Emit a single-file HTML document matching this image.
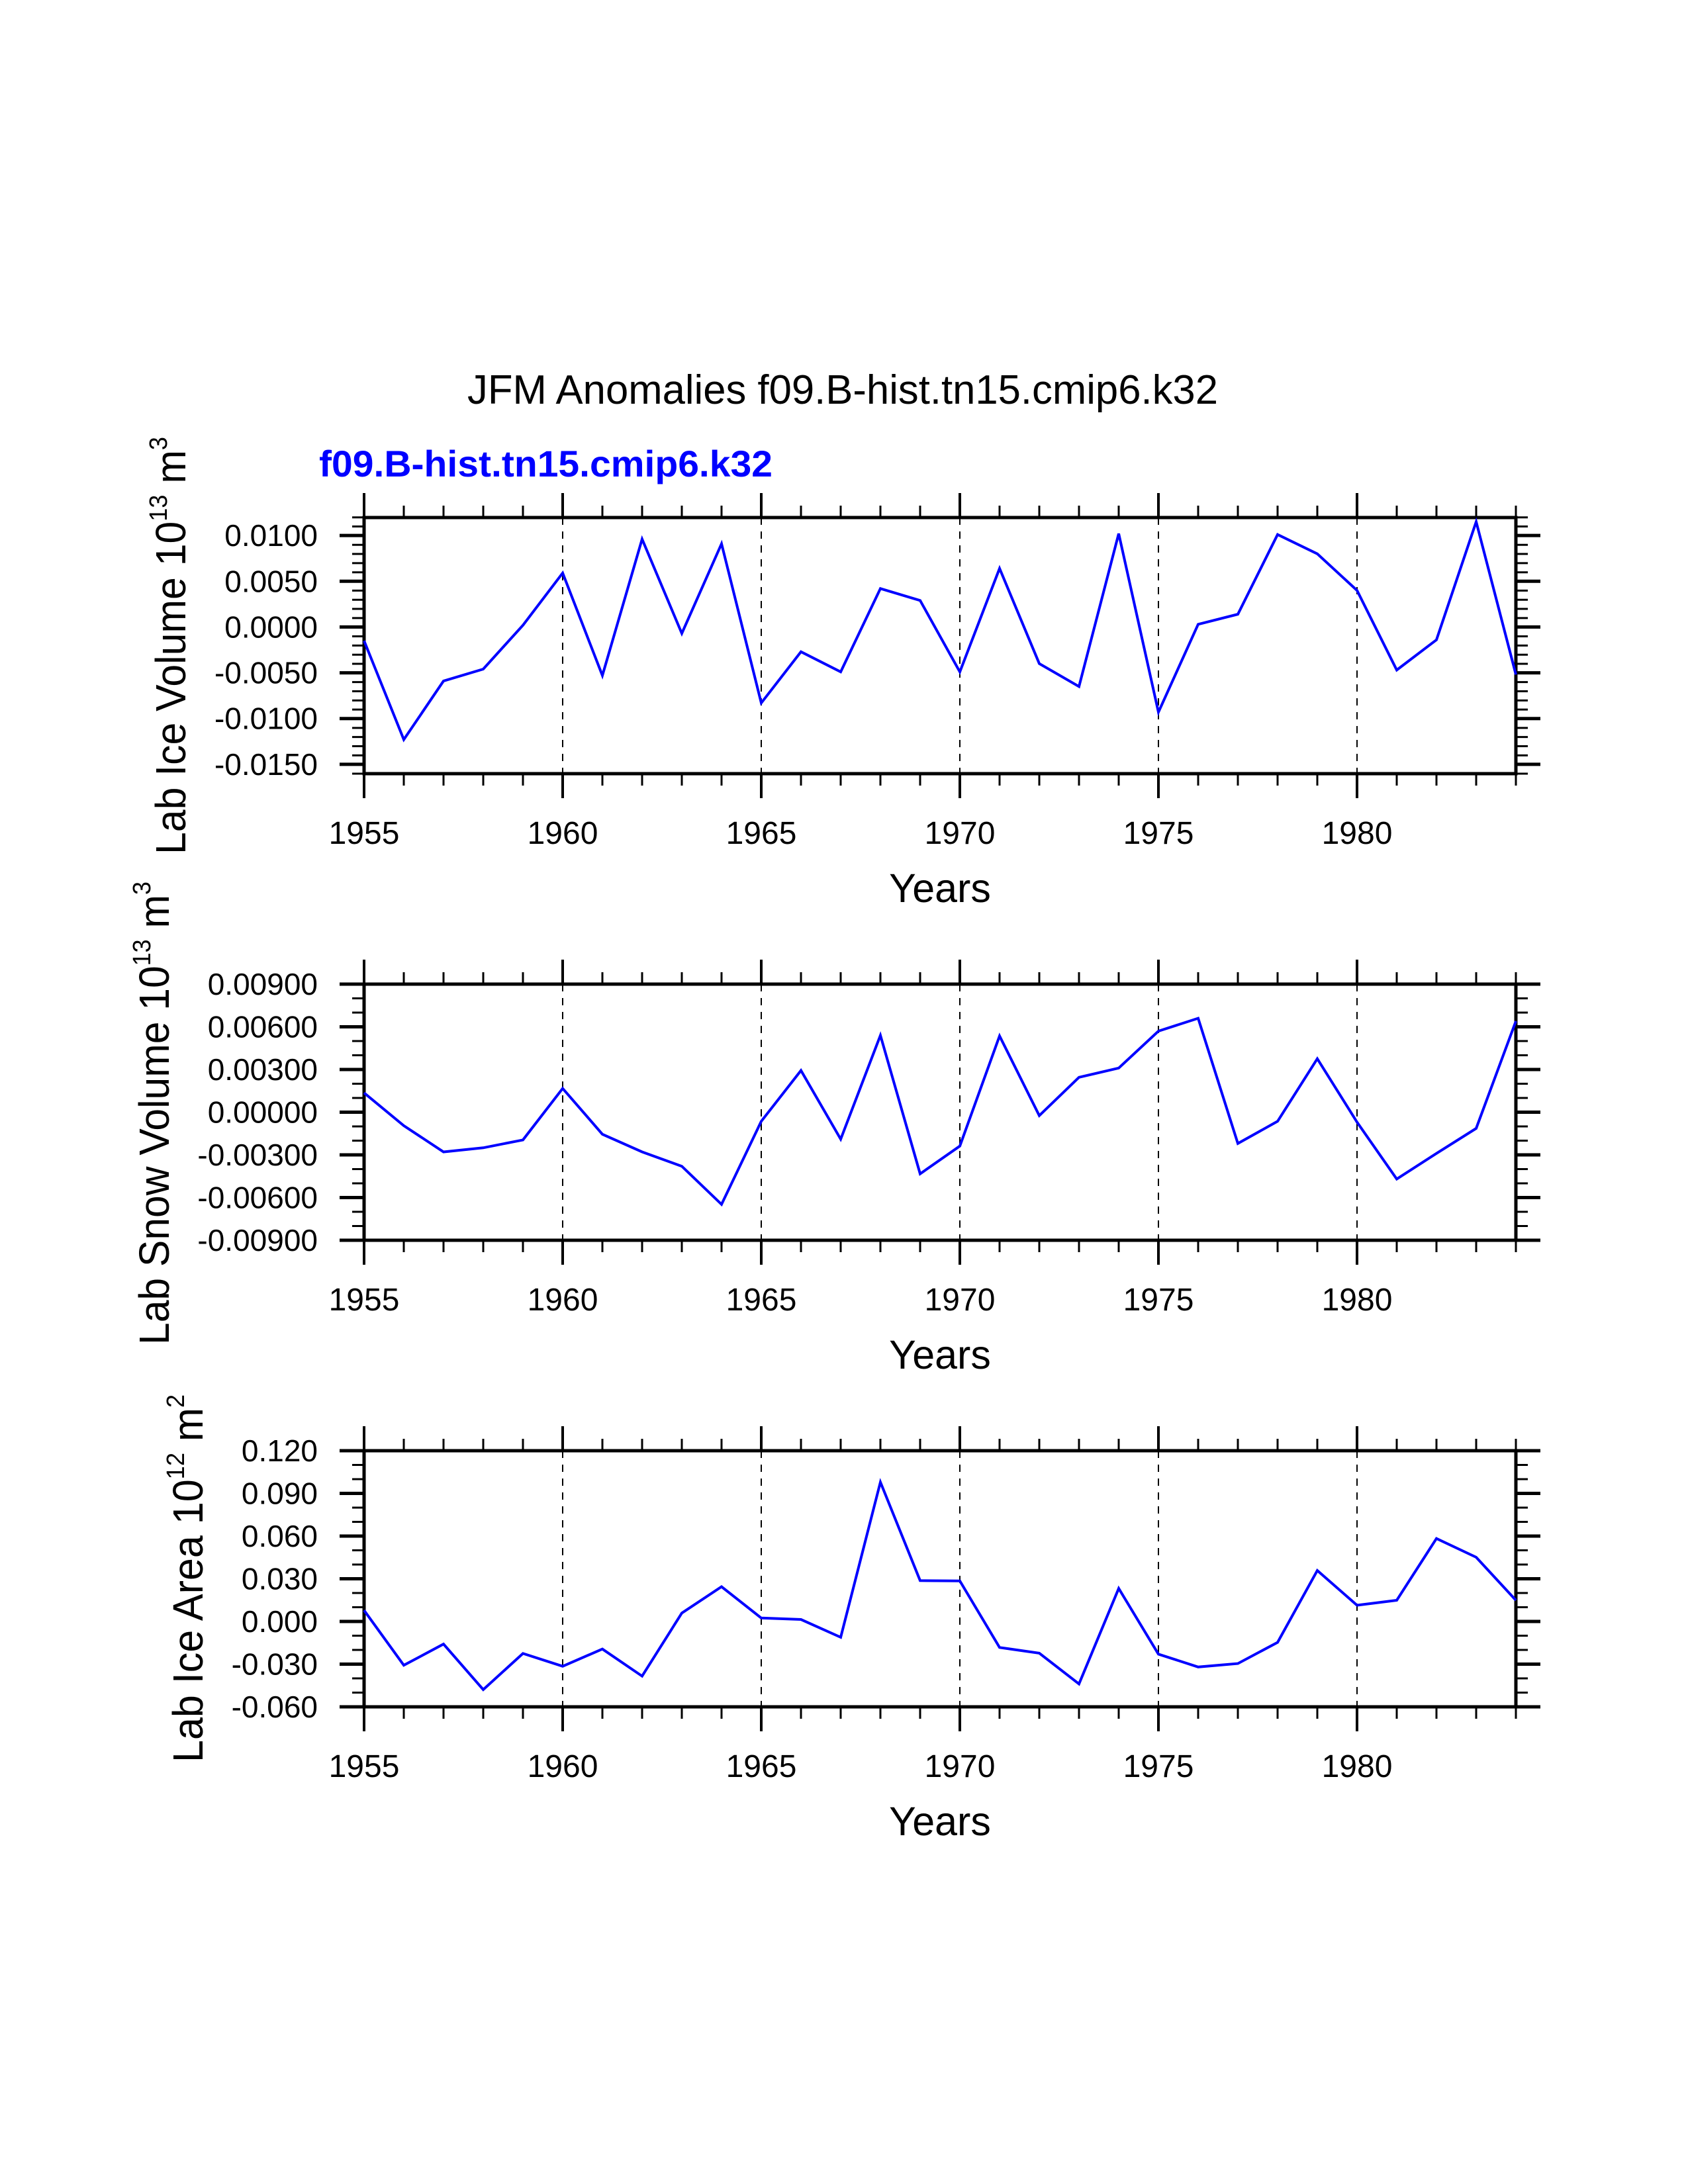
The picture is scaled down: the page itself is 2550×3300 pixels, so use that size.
<!DOCTYPE html>
<html><head><meta charset="utf-8">
<style>
html,body{margin:0;padding:0;background:#fff;}
svg{display:block;font-family:"Liberation Sans",Arial,sans-serif;}
</style></head>
<body>
<svg id="chart" xmlns="http://www.w3.org/2000/svg" width="2550" height="3300" viewBox="0 0 2550 3300">
<rect width="2550" height="3300" fill="#fff"/>
<text x="706" y="610" font-size="62" textLength="1134" lengthAdjust="spacingAndGlyphs" fill="#000">JFM Anomalies f09.B-hist.tn15.cmip6.k32</text>
<text x="482" y="720" font-size="56" font-weight="bold" textLength="685" lengthAdjust="spacingAndGlyphs" fill="#0000ff">f09.B-hist.tn15.cmip6.k32</text>
<g id="plots"></g>
</svg>
<script>
const years = [1955,1956,1957,1958,1959,1960,1961,1962,1963,1964,1965,1966,1967,1968,1969,1970,1971,1972,1973,1974,1975,1976,1977,1978,1979,1980,1981,1982,1983,1984];
const iceVolume = [-0.0015,-0.0123,-0.0059,-0.0046,0.0002,0.0059,-0.0053,0.0096,-0.0007,0.0091,-0.0083,-0.0027,-0.0049,0.0042,0.0029,-0.0049,0.0064,-0.0040,-0.0065,0.0102,-0.0093,0.0003,0.0014,0.0101,0.0080,0.0040,-0.0047,-0.0014,0.0115,-0.0052];
const snowVolume = [0.00136,-0.00095,-0.00279,-0.0025,-0.00195,0.00167,-0.00155,-0.00279,-0.0038,-0.00648,-0.00064,0.00293,-0.0019,0.0054,-0.00433,-0.00238,0.00536,-0.00024,0.00245,0.0031,0.0057,0.0066,-0.0022,-0.00064,0.00376,-0.0007,-0.0047,-0.0029,-0.00114,0.0064];
const iceArea = [0.0078,-0.0308,-0.0159,-0.0479,-0.0225,-0.0315,-0.0194,-0.0384,0.0059,0.0244,0.0024,0.0014,-0.0111,0.0979,0.0287,0.0285,-0.0183,-0.0223,-0.0439,0.0232,-0.0230,-0.0320,-0.0296,-0.0147,0.0358,0.0114,0.0149,0.0583,0.0451,0.0149];
const xTickLabels = ["1955","1960","1965","1970","1975","1980"];
const iceVolTicks = [0.0100,0.0050,0.0000,-0.0050,-0.0100,-0.0150];
const iceVolTickLabels = ["0.0100","0.0050","0.0000","-0.0050","-0.0100","-0.0150"];
const snowTicks = [0.009,0.006,0.003,0,-0.003,-0.006,-0.009];
const snowTickLabels = ["0.00900","0.00600","0.00300","0.00000","-0.00300","-0.00600","-0.00900"];
const areaTicks = [0.12,0.09,0.06,0.03,0,-0.03,-0.06];
const areaTickLabels = ["0.120","0.090","0.060","0.030","0.000","-0.030","-0.060"];

const NS = "http://www.w3.org/2000/svg";
const root = document.getElementById('plots');
function mk(tag, attrs, parent){
  const e = document.createElementNS(NS, tag);
  for (const k in attrs) e.setAttribute(k, attrs[k]);
  (parent||root).appendChild(e);
  return e;
}
const X0 = 550, X1 = 2290, xMin = 1955, xMax = 1984;
function xs(v){ return X0 + (v - xMin) * (X1 - X0) / (xMax - xMin); }

function panel(cfg){
  const g = mk('g', {});
  
  
  const T = cfg.top, B = cfg.top + 387;
  const ys = v => B - (v - cfg.yMin) * (B - T) / (cfg.yMax - cfg.yMin);
  for (let yr = 1960; yr <= 1980; yr += 5){
    const l = mk('line', {x1:xs(yr), x2:xs(yr), y1:T, y2:B, stroke:'#000', 'stroke-width':2, 'stroke-dasharray':'11,10'}, g);
    
    
  }
  for (let yr = xMin; yr <= xMax; yr++){
    const major = (yr - 1955) % 5 === 0;
    const len = major ? 37 : 18, w = major ? 4 : 3;
    mk('line', {x1:xs(yr), x2:xs(yr), y1:B, y2:B+len, stroke:'#000', 'stroke-width':w}, g);
    mk('line', {x1:xs(yr), x2:xs(yr), y1:T, y2:T-len, stroke:'#000', 'stroke-width':w}, g);
  }
  const n = Math.round((cfg.yMax - cfg.yMin) / cfg.minor);
  for (let i = 0; i <= n; i++){
    const y = ys(cfg.yMin + i * cfg.minor);
    mk('line', {x1:X0, x2:X0-18, y1:y, y2:y, stroke:'#000', 'stroke-width':3}, g);
    mk('line', {x1:X1, x2:X1+18, y1:y, y2:y, stroke:'#000', 'stroke-width':3}, g);
  }
  cfg.ticks.forEach((v, i) => {
    const y = ys(v);
    mk('line', {x1:X0, x2:X0-37, y1:y, y2:y, stroke:'#000', 'stroke-width':5}, g);
    mk('line', {x1:X1, x2:X1+37, y1:y, y2:y, stroke:'#000', 'stroke-width':5}, g);
    const t = mk('text', {x:480, y:y+16, 'font-size':46, 'text-anchor':'end', fill:'#000'}, g);
    t.textContent = cfg.tickLabels[i];
    
    
  });
  xTickLabels.forEach(s => {
    const t = mk('text', {x:xs(+s), y:B+106, 'font-size':48, 'text-anchor':'middle', fill:'#000'}, g);
    t.textContent = s;
    
    
  });
  const fr = mk('rect', {x:X0, y:T, width:X1-X0, height:B-T, fill:'none', stroke:'#000', 'stroke-width':5}, g);
  
  
  const pts = years.map((yr, i) => xs(yr).toFixed(1) + ',' + ys(cfg.data[i]).toFixed(1)).join(' ');
  const pl = mk('polyline', {points:pts, fill:'none', stroke:'#0000ff', 'stroke-width':4, 'stroke-linejoin':'miter'}, g);
  
  
  const xt = mk('text', {x:1420, y:B+194, 'font-size':61, 'text-anchor':'middle', fill:'#000'}, g);
  xt.textContent = 'Years';
  
  
  const yt = mk('text', {transform:'translate(' + cfg.tx + ',' + cfg.ty0 + ') rotate(-90)', 'font-size':64, fill:'#000'}, g);
  
  
  const a = mk('tspan', {}, yt); a.textContent = cfg.label + ' 10';
  const b = mk('tspan', {dy:-28, 'font-size':38}, yt); b.textContent = cfg.exp;
  const c = mk('tspan', {dy:28}, yt); c.textContent = ' m';
  const d = mk('tspan', {dy:-28, 'font-size':38}, yt); d.textContent = cfg.unitExp;
  yt.setAttribute('textLength', cfg.len);
  yt.setAttribute('lengthAdjust', 'spacingAndGlyphs');
}

panel({name:'ice-volume', top:782, yMin:-0.01602, yMax:0.01196, minor:0.001, ticks:iceVolTicks, tickLabels:iceVolTickLabels, data:iceVolume, label:'Lab Ice Volume', exp:'13', unitExp:'3', tx:280, ty0:1291, len:631});
panel({name:'snow-volume', top:1487, yMin:-0.009, yMax:0.009, minor:0.001, ticks:snowTicks, tickLabels:snowTickLabels, data:snowVolume, label:'Lab Snow Volume', exp:'13', unitExp:'3', tx:255, ty0:2032, len:700});
panel({name:'ice-area', top:2192, yMin:-0.06, yMax:0.12, minor:0.01, ticks:areaTicks, tickLabels:areaTickLabels, data:iceArea, label:'Lab Ice Area', exp:'12', unitExp:'2', tx:306, ty0:2663, len:556});
</script>
</body></html>
